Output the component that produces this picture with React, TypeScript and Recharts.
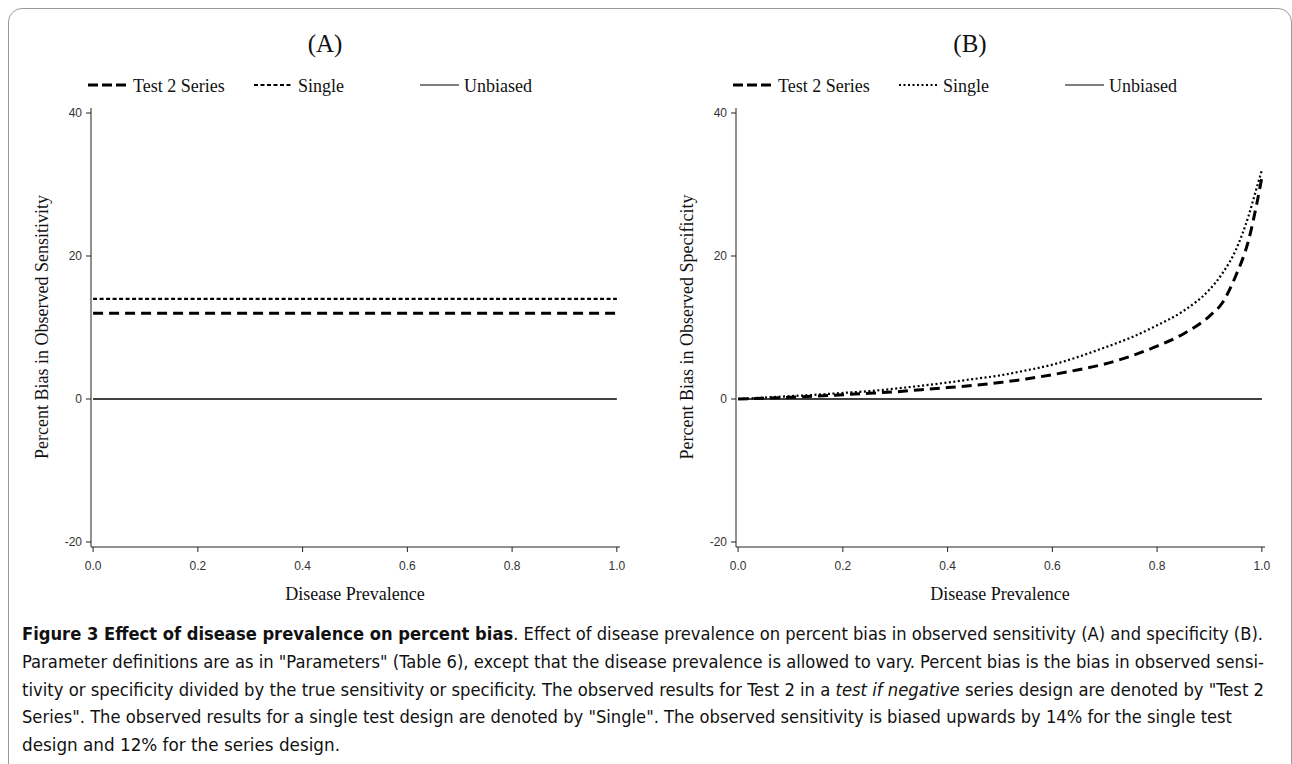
import React from "react";
import { Legend, Line, LineChart, XAxis, YAxis } from "recharts";

// prevalence grid and percent-bias values
const prevalenceA = [0, 1];
const seriesA = [12, 12];
const singleA = [14, 14];

const prevalenceB = [
  0, 0.05, 0.1, 0.15, 0.2, 0.25, 0.3, 0.35, 0.4, 0.45, 0.5, 0.55, 0.6, 0.65,
  0.7, 0.75, 0.8, 0.85, 0.9, 0.925, 0.95, 0.975, 0.99, 1,
];
const seriesB = [
  0, 0.1, 0.25, 0.4, 0.6, 0.8, 1.0, 1.3, 1.6, 1.9, 2.3, 2.8, 3.4, 4.1, 4.9,
  6.0, 7.4, 9.1, 11.6, 13.5, 17.2, 22.3, 27.2, 31,
];
const singleB = [
  0, 0.2, 0.4, 0.6, 0.85, 1.1, 1.45, 1.85, 2.3, 2.8, 3.3, 4.0, 4.8, 5.9, 7.2,
  8.6, 10.3, 12.3, 15.3, 17.6, 20.8, 25.7, 29.5, 32,
];

const unbiasedX = [0, 1];
const unbiasedY = [0, 0];

const xTicks = [0, 0.2, 0.4, 0.6, 0.8, 1.0];
const yTicks = [-20, 0, 20, 40];

const legendItems = ["Test 2 Series", "Single", "Unbiased"];

const SERIF = '"Liberation Serif", "DejaVu Serif", serif';
const SANS = '"Liberation Sans", Arial, sans-serif';

const toRows = (xs: number[], ys: number[]) => xs.map((x, i) => ({ x, y: ys[i] }));

const xDomain: [number, number] = [-0.004, 1.006];
const yDomain: [number, number] = [-20.7, 40.7];

function PanelLegend({ dotted }: { dotted: string }) {
  return (
    <svg width={560} height={26} style={{ display: "block" }}>
      <line x1={88} x2={126} y1={12} y2={12} stroke="#000" strokeWidth={3} strokeDasharray="10 4" />
      <text x={133} y={19} fontFamily={SERIF} fontSize={18} fill="#111">{legendItems[0]}</text>
      <line x1={254} x2={292} y1={12} y2={12} stroke="#000" strokeWidth={2} strokeDasharray={dotted} />
      <text x={298} y={19} fontFamily={SERIF} fontSize={18} fill="#111">{legendItems[1]}</text>
      <line x1={420} x2={459} y1={12} y2={12} stroke="#000" strokeWidth={1.2} />
      <text x={464} y={19} fontFamily={SERIF} fontSize={18} fill="#111">{legendItems[2]}</text>
    </svg>
  );
}

type PanelProps = {
  left: number;
  title: string;
  yLabel: string;
  xs: number[];
  series: number[];
  single: number[];
  dotted: string;
};

function Panel({ left, title, yLabel, xs, series, single, dotted }: PanelProps) {
  const W = 645;
  const H = 620;
  return (
    <div style={{ position: "absolute", left, top: 0, width: W, height: H }}>
      <div
        style={{
          position: "absolute", left: 0, width: 650, top: 29, textAlign: "center",
          fontFamily: SERIF, fontSize: 25, lineHeight: "30px", color: "#111",
        }}
      >
        {title}
      </div>
      <div
        style={{
          position: "absolute", left: 42 - 200, top: 327 - 12, width: 400, height: 24,
          textAlign: "center", transform: "rotate(-90deg)", fontFamily: SERIF,
          fontSize: 18, lineHeight: "24px", color: "#111", whiteSpace: "nowrap",
        }}
      >
        {yLabel}
      </div>
      <div
        style={{
          position: "absolute", left: 355 - 150, top: 582, width: 300, textAlign: "center",
          fontFamily: SERIF, fontSize: 18, lineHeight: "24px", color: "#111",
        }}
      >
        Disease Prevalence
      </div>
      <div style={{ position: "absolute", left: 0, top: 0 }}>
        <LineChart width={W} height={H} margin={{ top: 108, right: 25, bottom: 43, left: 51 }}>
          <XAxis
            type="number"
            dataKey="x"
            domain={xDomain}
            ticks={xTicks}
            allowDataOverflow
            tickFormatter={(v: number) => v.toFixed(1)}
            tick={{ fontFamily: SANS, fontSize: 12, fill: "#333" }}
            tickSize={5}
            tickMargin={9}
            height={30}
            stroke="#222"
            interval={0}
          />
          <XAxis
            xAxisId="top"
            orientation="top"
            type="number"
            dataKey="x"
            domain={xDomain}
            allowDataOverflow
            tick={false}
            tickLine={false}
            height={0}
            stroke="#222"
          />
          <YAxis
            type="number"
            domain={yDomain}
            ticks={yTicks}
            allowDataOverflow
            tick={{ fontFamily: SANS, fontSize: 12, fill: "#333" }}
            tickSize={5}
            tickMargin={4}
            width={40}
            stroke="#222"
            interval={0}
          />
          <YAxis
            yAxisId="right"
            orientation="right"
            type="number"
            domain={yDomain}
            allowDataOverflow
            tick={false}
            tickLine={false}
            width={0}
            stroke="#222"
            strokeWidth={1.5}
          />
          <Legend
            layout="horizontal"
            verticalAlign="middle"
            wrapperStyle={{ position: "absolute", left: 0, top: 73, width: 560, height: 26 }}
            content={() => <PanelLegend dotted={dotted} />}
          />
          <Line
            data={toRows(unbiasedX, unbiasedY)}
            dataKey="y"
            name={legendItems[2]}
            stroke="#000"
            strokeWidth={1.3}
            dot={false}
            isAnimationActive={false}
          />
          <Line
            data={toRows(xs, single)}
            dataKey="y"
            name={legendItems[1]}
            type="monotone"
            stroke="#000"
            strokeWidth={2.2}
            strokeDasharray={dotted}
            dot={false}
            isAnimationActive={false}
          />
          <Line
            data={toRows(xs, series)}
            dataKey="y"
            name={legendItems[0]}
            type="monotone"
            stroke="#000"
            strokeWidth={3}
            strokeDasharray="10 6"
            dot={false}
            isAnimationActive={false}
          />
        </LineChart>
      </div>
    </div>
  );
}

const CAPTION_FONT = '"DejaVu Sans Condensed", "DejaVu Sans", sans-serif';

// caption lines: width of each line in the figure, and its baseline
const captionWidths = [1241, 1242, 1242, 1210, 318];
const captionBaselines = [640, 668, 696, 723, 751];

export default function App() {
  return (
    <div style={{ position: "absolute", left: 0, top: 0, width: 1292, height: 764, overflow: "hidden", background: "#fff" }}>
      <div
        style={{
          position: "absolute", left: 8, top: 8, width: 1282, height: 820,
          border: "1px solid #9a9a9a", borderRadius: 14,
        }}
      />
      <Panel
        left={0}
        title="(A)"
        yLabel="Percent Bias in Observed Sensitivity"
        xs={prevalenceA}
        series={seriesA}
        single={singleA}
        dotted="4 2.5"
      />
      <Panel
        left={645}
        title="(B)"
        yLabel="Percent Bias in Observed Specificity"
        xs={prevalenceB}
        series={seriesB}
        single={singleB}
        dotted="2 2.5"
      />
      <svg
        width={1292}
        height={150}
        style={{ position: "absolute", left: 0, top: 614 }}
        fontFamily={CAPTION_FONT}
        fontSize={17}
        fill="#111"
      >
        <g transform="translate(0,-614)">
          <text x={22} y={captionBaselines[0]} textLength={captionWidths[0]} lengthAdjust="spacingAndGlyphs">
            <tspan fontWeight="bold">Figure 3 Effect of disease prevalence on percent bias</tspan>. Effect of disease prevalence on percent bias in observed sensitivity (A) and specificity (B).
          </text>
          <text x={22} y={captionBaselines[1]} textLength={captionWidths[1]} lengthAdjust="spacingAndGlyphs">
            Parameter definitions are as in "Parameters" (Table 6), except that the disease prevalence is allowed to vary. Percent bias is the bias in observed sensi-
          </text>
          <text x={22} y={captionBaselines[2]} textLength={captionWidths[2]} lengthAdjust="spacingAndGlyphs">
            tivity or specificity divided by the true sensitivity or specificity. The observed results for Test 2 in a <tspan fontStyle="italic">test if negative</tspan> series design are denoted by "Test 2
          </text>
          <text x={22} y={captionBaselines[3]} textLength={captionWidths[3]} lengthAdjust="spacingAndGlyphs">
            Series". The observed results for a single test design are denoted by "Single". The observed sensitivity is biased upwards by 14% for the single test
          </text>
          <text x={22} y={captionBaselines[4]} textLength={captionWidths[4]} lengthAdjust="spacingAndGlyphs">
            design and 12% for the series design.
          </text>
        </g>
      </svg>
    </div>
  );
}
